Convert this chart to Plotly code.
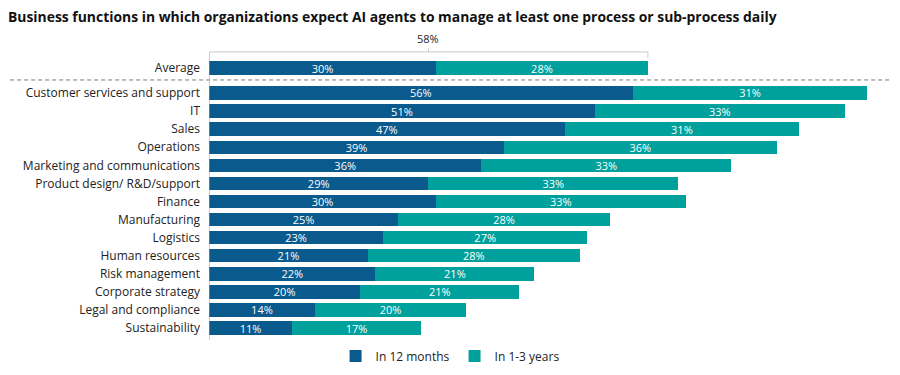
import plotly.graph_objects as go

categories = ["Average", "Customer services and support", "IT", "Sales", "Operations",
              "Marketing and communications", "Product design/ R&D/support", "Finance",
              "Manufacturing", "Logistics", "Human resources", "Risk management",
              "Corporate strategy", "Legal and compliance", "Sustainability"]
in_12_months = [30, 56, 51, 47, 39, 36, 29, 30, 25, 23, 21, 22, 20, 14, 11]
in_1_3_years = [28, 31, 33, 31, 36, 33, 33, 33, 28, 27, 28, 21, 21, 20, 17]
average_total = 58

# layout positions: Average sits a bit apart from the rest
ypos = [-1.38] + list(range(len(categories) - 1))

BLUE = "#0A5A8E"
TEAL = "#00A19D"
FONT = "Open Sans"

fig = go.Figure()
for vals, name, color in [(in_12_months, "In 12 months", BLUE), (in_1_3_years, "In 1-3 years", TEAL)]:
    fig.add_trace(go.Bar(
        y=ypos, x=vals, orientation="h", name=name,
        marker=dict(color=color, line=dict(width=0)), width=0.74,
        text=[f"{v}%" for v in vals], textposition="inside", constraintext="none",
        insidetextanchor="middle", textfont=dict(color="white", size=11, family=FONT),
    ))

gray = "#9a9a9a"
shapes = [
    dict(type="line", xref="paper", yref="y", x0=-0.292, x1=1.0, y0=-0.72, y1=-0.72,
         line=dict(color="#7a7a7a", width=1, dash="4px,3px")),
    dict(type="line", xref="x", yref="y", x0=0, x1=0, y0=-2.27, y1=13.66,
         line=dict(color=gray, width=1)),
    dict(type="line", xref="x", yref="y", x0=0, x1=average_total, y0=-2.27, y1=-2.27,
         line=dict(color="#c8c8c8", width=1)),
    dict(type="line", xref="x", yref="y", x0=average_total, x1=average_total, y0=-2.27, y1=-1.94,
         line=dict(color="#c8c8c8", width=1)),
    dict(type="line", xref="x", yref="y", x0=average_total / 2, x1=average_total / 2, y0=-2.27, y1=-2.47,
         line=dict(color="#c8c8c8", width=1)),
]

fig.update_layout(
    width=892, height=367,
    margin=dict(l=201, r=10, t=32, b=35, autoexpand=False),
    paper_bgcolor="white", plot_bgcolor="white",
    barmode="stack", bargap=0.25,
    uniformtext=dict(minsize=11, mode="show"),
    font=dict(family=FONT, size=12, color="#222222"),
    title=dict(text="<b>Business functions in which organizations expect AI agents to manage at least one process or sub-process daily</b>",
               x=0.0, xanchor="left", y=0.9755, yanchor="middle", yref="container",
               font=dict(size=13.9, color="#111111", family=FONT)),
    xaxis=dict(range=[0, 90], showgrid=False, zeroline=False, showticklabels=False,
               showline=False, automargin=False),
    yaxis=dict(range=[13.66, -2.93], tickvals=ypos, ticktext=categories, showgrid=False,
               zeroline=False, showline=False, ticks="", ticklabelstandoff=8, automargin=False,
               tickfont=dict(size=12, color="#222222")),
    legend=dict(orientation="h", x=0.354, xanchor="center", y=-0.053, yanchor="middle",
                font=dict(size=12, color="#222222"), traceorder="normal",
                bgcolor="rgba(0,0,0,0)"),
    shapes=shapes,
    annotations=[dict(x=average_total / 2, y=-2.5, xref="x", yref="y", text=f"{average_total}%",
                      showarrow=False, yanchor="bottom", font=dict(size=11, color="#222222"))],
    showlegend=True,
)

fig.write_html("out.html")
